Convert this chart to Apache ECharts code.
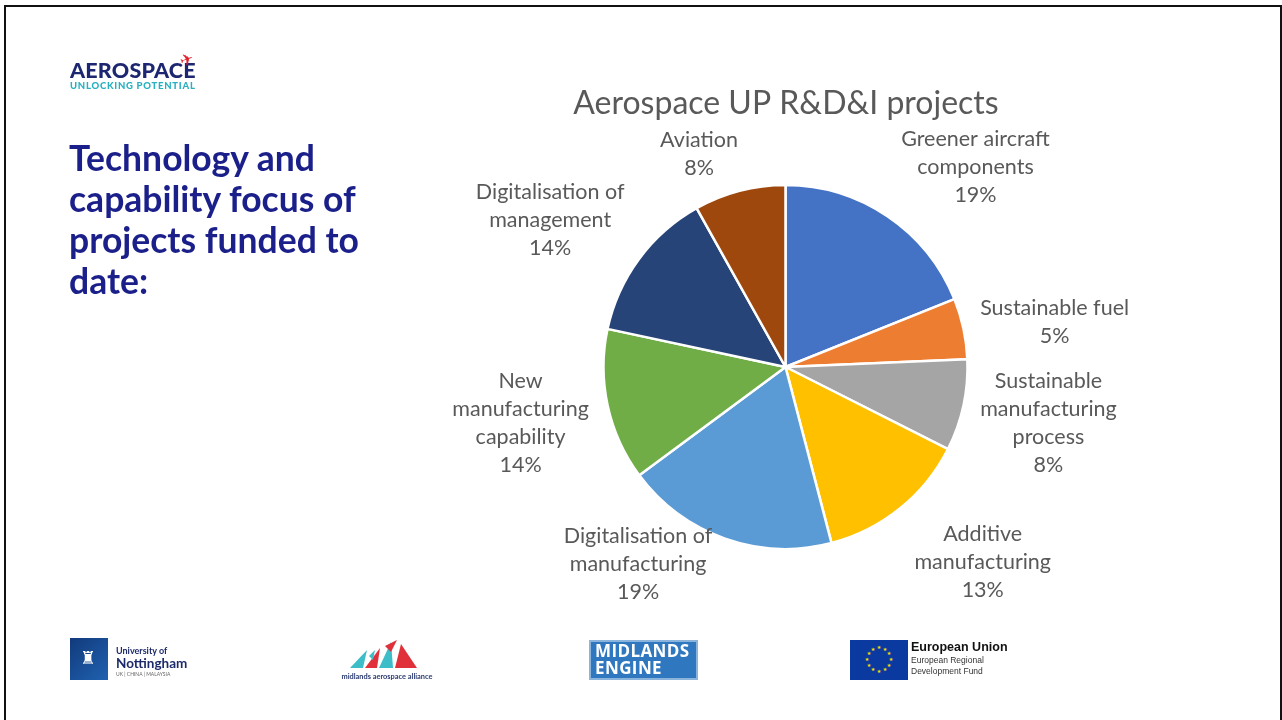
<!DOCTYPE html>
<html>
<head>
<meta charset="utf-8">
<script src="https://cdn.jsdelivr.net/npm/echarts@6/dist/echarts.min.js"></script>
<style>
  html, body { margin:0; padding:0; width:1282px; height:720px; background:#fff; overflow:hidden; font-family: Lato, "Open Sans", sans-serif; }
  #frame { position:absolute; left:4px; top:5px; width:1274px; height:730px; border:2px solid #111; border-bottom:none; }
  #chart { position:absolute; left:0; top:0; width:1282px; height:720px; }
  .abs { position:absolute; }
  #heading { left:69px; top:137px; color:#1b1f8a; font-weight:700; font-size:35.5px; line-height:41px; font-family: Lato, sans-serif; }
</style>
</head>
<body>
<div id="frame"></div>
<div id="chart"></div>

<!-- slide decorations -->
<div class="abs" id="heading">Technology and<br>capability focus of<br>projects funded to<br>date:</div>

<div class="abs" style="left:70px;top:60px;width:130px;">
  <div style="position:absolute;left:110px;top:-10px;color:#e0202e;font-size:16px;font-family:'DejaVu Sans';transform:rotate(-20deg);">✈</div>
  <div style="font-family:Lato;font-weight:900;font-size:21.5px;color:#1d2670;letter-spacing:0.2px;line-height:20px;">AEROSPACE</div>
  <div style="font-family:Lato;font-weight:900;font-size:9.5px;color:#26b0c0;line-height:11px;letter-spacing:0.75px;">UNLOCKING POTENTIAL</div>
</div>

<div class="abs" style="left:70px;top:638px;width:38px;height:42px;background:linear-gradient(135deg,#123a7c,#1f62b0);"></div>
<div class="abs" style="left:80px;top:645px;width:16px;height:26px;color:#fff;font-size:18px;line-height:26px;font-family:'DejaVu Sans';">♜</div>
<div class="abs" style="left:116px;top:646px;color:#1d2a6a;font-family:Lato;font-weight:700;">
  <div style="font-size:9px;line-height:10px;">University of</div>
  <div style="font-size:13.5px;line-height:15px;">Nottingham</div>
  <div style="font-size:5px;line-height:7px;color:#666;font-weight:400;">UK | CHINA | MALAYSIA</div>
</div>

<svg class="abs" style="left:345px;top:638px;" width="80" height="34" viewBox="0 0 80 34">
  <polygon points="5,30 22,12 18,30" fill="#3cbdc8"/>
  <polygon points="20,30 35,10 32,30" fill="#e0303a"/>
  <polygon points="34,30 46,4 48,30" fill="#3cbdc8"/>
  <polygon points="50,30 56,6 72,30" fill="#e0303a"/>
  <polygon points="40,8 52,2 46,14" fill="#e0303a"/>
  <polygon points="24,18 30,12 28,22" fill="#3cbdc8"/>
</svg>
<div class="abs" style="left:331px;top:672px;width:112px;text-align:center;color:#2a3a70;font-family:Lato;font-weight:700;font-size:7.4px;">midlands aerospace alliance</div>

<div class="abs" style="left:589px;top:640px;width:109px;height:40px;background:#2f77be;box-sizing:border-box;border:2px solid #8ab4dc;"></div>
<div class="abs" style="left:595px;top:642px;color:#fff;font-family:'Open Sans';font-weight:700;font-size:17px;line-height:17px;letter-spacing:0.4px;">MIDLANDS<br>ENGINE</div>

<svg class="abs" style="left:850px;top:640px;" width="58" height="40" viewBox="0 0 58 40">
  <rect width="58" height="40" fill="#0a3aa0"/>
  <g fill="#ffdd00" font-size="5" font-family="DejaVu Sans" text-anchor="middle">
    <text x="29" y="9">★</text><text x="35" y="11">★</text><text x="39" y="15">★</text><text x="41" y="21">★</text>
    <text x="39" y="27">★</text><text x="35" y="31">★</text><text x="29" y="33">★</text><text x="23" y="31">★</text>
    <text x="19" y="27">★</text><text x="17" y="21">★</text><text x="19" y="15">★</text><text x="23" y="11">★</text>
  </g>
</svg>
<div class="abs" style="left:911px;top:640px;color:#111;font-family:'Liberation Sans',Arial;">
  <div style="font-size:12.5px;font-weight:700;line-height:15px;">European Union</div>
  <div style="font-size:8.5px;line-height:11px;color:#333;">European Regional</div>
  <div style="font-size:8.5px;line-height:11px;color:#333;">Development Fund</div>
</div>

<script>
// ---- data (share of projects, %) ----
const categories = [
  'Greener aircraft\ncomponents',
  'Sustainable fuel',
  'Sustainable\nmanufacturing\nprocess',
  'Additive\nmanufacturing',
  'Digitalisation of\nmanufacturing',
  'New\nmanufacturing\ncapability',
  'Digitalisation of\nmanagement',
  'Aviation'
];
const values = [18.92, 5.41, 8.11, 13.49, 18.92, 13.51, 13.52, 8.12];
const colors = ['#4472C4', '#ED7D31', '#A5A5A5', '#FFC000', '#5B9BD5', '#70AD47', '#264478', '#9E480E'];
const chartTitle = 'Aerospace UP R&D&I projects';

// ---- layout ----
const CENTER = [785.5, 367];
const RADIUS = 182;
const GAP = 12;
const labelNudge = [[7,3],[5,8],[5,-9],[7,2],[-9,-28],[-7,-9],[-5,10],[-8,3]];

const total = values.reduce((a, b) => a + b, 0);
function midAngle(i) {
  let cum = 0;
  for (let j = 0; j < i; j++) cum += values[j];
  return (cum + values[i] / 2) / total * Math.PI * 2;
}
const clamp = (v) => Math.max(-1, Math.min(1, v));

const chart = echarts.init(document.getElementById('chart'), null, { renderer: 'canvas' });
chart.setOption({
  animation: false,
  backgroundColor: 'transparent',
  title: {
    text: chartTitle,
    left: 781, top: 83, textAlign: 'center',
    textStyle: { color: '#595959', fontSize: 32, fontWeight: 'normal', fontFamily: 'Lato' }
  },
  color: colors,
  series: [{
    type: 'pie',
    center: CENTER,
    radius: RADIUS,
    startAngle: 90,
    clockwise: true,
    avoidLabelOverlap: false,
    itemStyle: { borderColor: '#fff', borderWidth: 2.5 },
    label: {
      show: true, position: 'outside',
      formatter: (p) => p.name + '\n' + Math.round(p.value) + '%',
      color: '#595959', fontSize: 21.5, lineHeight: 28, fontFamily: 'Lato', align: 'center'
    },
    labelLine: { show: false },
    labelLayout: function (p) {
      const i = p.dataIndex;
      const a = midAngle(i);
      const ux = Math.sin(a), uy = -Math.cos(a);
      const w = p.labelRect.width, h = p.labelRect.height;
      const px = CENTER[0] + (RADIUS + GAP) * ux;
      const py = CENTER[1] + (RADIUS + GAP) * uy;
      const cx = px + w / 2 * clamp(3 * ux) + labelNudge[i][0];
      const cy = py + h / 2 * clamp(2 * uy) + labelNudge[i][1];
      return { x: cx, y: cy, align: 'center', verticalAlign: 'middle' };
    },
    data: categories.map((c, i) => ({ name: c, value: values[i] }))
  }]
});
</script>
</body>
</html>
